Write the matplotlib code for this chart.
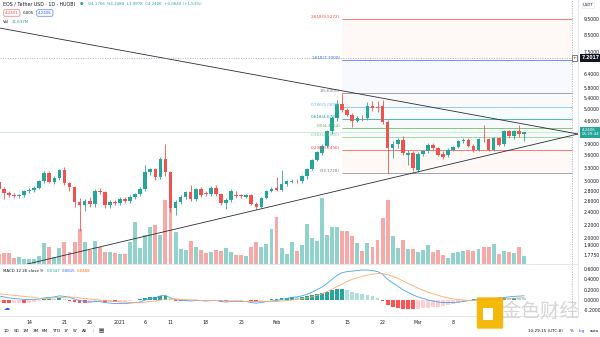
import numpy as np
import pandas as pd
import matplotlib
matplotlib.use("Agg")
import matplotlib.pyplot as plt
from matplotlib.ticker import NullLocator
from matplotlib.patches import FancyBboxPatch
import matplotlib.transforms as mtransforms

# ---------------------------------------------------------------- datos
fechas = pd.date_range("2020-12-08", "2021-03-22", freq="D")

aperturas = [
    2.97, 2.84, 2.76, 2.72, 2.69, 2.71, 2.79, 2.82, 2.86, 2.99,
    3.18, 2.98, 3.06, 3.24, 2.95, 2.87, 2.58, 2.52, 2.61, 2.54,
    2.80, 2.78, 2.53, 2.58, 2.56, 2.64, 2.60, 2.68, 2.73, 2.83,
    3.19, 3.26, 3.09, 3.50, 3.19, 2.47, 2.58, 2.68, 2.77, 2.64,
    2.83, 2.76, 2.73, 2.86, 2.73, 2.57, 2.62, 2.72, 2.71, 2.68,
    2.71, 2.54, 2.49, 2.66, 2.80, 2.85, 2.82, 2.93, 2.98, 3.01,
    2.99, 3.10, 3.27, 3.49, 3.65, 3.85, 4.27, 4.69, 5.20, 4.98,
    4.80, 4.60, 4.71, 4.68, 5.10, 5.05, 5.10, 4.58, 3.79, 3.90,
    4.02, 3.62, 3.66, 3.24, 3.64, 3.70, 3.87, 3.79, 3.64, 3.62,
    3.74, 3.83, 3.98, 4.02, 3.85, 3.74, 4.05, 4.03, 3.74, 4.06,
    3.90, 4.27, 4.14, 4.27, 4.1766]
maximos = [
    3.02, 2.88, 2.80, 2.75, 2.74, 2.82, 2.85, 2.89, 3.02, 3.21,
    3.22, 3.10, 3.27, 3.31, 2.98, 2.90, 2.65, 2.64, 2.68, 2.84,
    2.86, 2.80, 2.62, 2.62, 2.67, 2.68, 2.71, 2.76, 2.87, 3.36,
    3.30, 3.30, 3.55, 3.90, 3.22, 2.62, 2.72, 2.80, 2.92, 2.86,
    2.88, 2.80, 2.90, 2.92, 2.76, 2.66, 2.84, 2.80, 2.74, 2.74,
    2.73, 2.58, 2.68, 2.82, 2.87, 3.09, 3.24, 3.02, 3.04, 3.05,
    3.12, 3.30, 3.52, 3.72, 3.90, 4.32, 4.75, 5.34, 5.60, 5.05,
    4.88, 4.76, 4.80, 5.25, 5.30, 5.30, 5.35, 4.62, 3.98, 4.08,
    4.12, 3.74, 3.70, 3.68, 3.74, 3.92, 3.92, 3.82, 3.70, 3.78,
    3.86, 4.02, 4.06, 4.06, 3.90, 4.08, 4.47, 4.08, 4.10, 4.10,
    4.30, 4.30, 4.30, 4.47, 4.2489]
minimos = [
    2.80, 2.64, 2.68, 2.66, 2.66, 2.68, 2.76, 2.78, 2.84, 2.96,
    2.95, 2.93, 3.02, 2.92, 2.80, 2.50, 2.10, 2.42, 2.50, 2.50,
    2.74, 2.48, 2.47, 2.52, 2.52, 2.57, 2.57, 2.64, 2.70, 2.80,
    3.12, 3.02, 3.05, 3.10, 2.40, 2.36, 2.54, 2.63, 2.60, 2.60,
    2.68, 2.70, 2.70, 2.70, 2.52, 2.45, 2.58, 2.66, 2.66, 2.66,
    2.52, 2.45, 2.47, 2.64, 2.78, 2.79, 2.80, 2.90, 2.95, 2.96,
    2.96, 3.05, 3.25, 3.45, 3.60, 3.80, 4.20, 4.60, 4.90, 4.75,
    4.40, 4.55, 4.60, 4.64, 4.95, 4.90, 4.50, 3.1728, 3.53, 3.80,
    3.60, 3.37, 3.22, 3.20, 3.58, 3.66, 3.74, 3.58, 3.52, 3.57,
    3.70, 3.80, 3.94, 3.82, 3.68, 3.70, 3.95, 3.70, 3.70, 3.84,
    3.86, 4.08, 4.05, 4.10, 3.9978]
cierres = [
    2.84, 2.76, 2.72, 2.69, 2.71, 2.79, 2.82, 2.86, 2.99, 3.18,
    2.98, 3.06, 3.24, 2.95, 2.87, 2.58, 2.52, 2.61, 2.54, 2.80,
    2.78, 2.53, 2.58, 2.56, 2.64, 2.60, 2.68, 2.73, 2.83, 3.19,
    3.26, 3.09, 3.50, 3.19, 2.47, 2.58, 2.68, 2.77, 2.64, 2.83,
    2.72, 2.73, 2.86, 2.73, 2.57, 2.62, 2.79, 2.69, 2.69, 2.71,
    2.54, 2.49, 2.66, 2.80, 2.83, 2.82, 2.93, 2.99, 3.01, 2.99,
    3.10, 3.27, 3.49, 3.68, 3.85, 4.27, 4.69, 5.20, 4.98, 4.80,
    4.60, 4.70, 4.68, 5.10, 5.05, 5.04, 4.58, 3.79, 3.91, 4.02,
    3.66, 3.66, 3.28, 3.64, 3.70, 3.87, 3.79, 3.62, 3.57, 3.74,
    3.83, 3.98, 4.02, 3.85, 3.74, 4.03, 4.03, 3.74, 4.06, 3.88,
    4.27, 4.14, 4.27, 4.1766, 4.2406]
# volumen en millones
volumen = [
    14.5, 15.5, 16.4, 8.3, 10.6, 6.8, 7.3, 7.7, 11.6, 30.0,
    24.2, 10.6, 22.8, 31.5, 17.8, 32.3, 50.3, 31.5, 20.3, 33.4,
    25.1, 17.8, 17.0, 15.9, 14.1, 14.5, 32.3, 61.3, 22.8, 42.1,
    53.2, 56.6, 42.1, 92.8, 95.7, 46.8, 21.3, 20.3, 33.4, 25.1,
    20.3, 15.5, 17.8, 20.3, 19.3, 22.8, 17.8, 13.1, 13.1, 11.6,
    24.2, 32.3, 25.1, 29.0, 50.3, 68.2, 22.8, 14.5, 32.3, 19.3,
    27.6, 57.6, 37.3, 32.9, 95.7, 42.1, 54.1, 53.2, 47.9, 47.9,
    40.6, 30.9, 18.9, 30.0, 25.1, 34.8, 66.3, 92.8, 41.0, 22.8,
    34.8, 21.3, 22.2, 17.0, 20.3, 27.6, 17.8, 20.3, 13.1, 8.3,
    16.4, 17.8, 19.3, 20.3, 19.3, 21.3, 25.1, 24.2, 29.0, 14.1,
    19.3, 17.8, 16.4, 24.2, 11.6]
linea_macd = [
    0.08, 0.06, 0.04, 0.03, 0.02, 0.01, 0.01, 0.01, 0.02, 0.04,
    0.05, 0.06, 0.08, 0.07, 0.05, 0.02, -0.01, -0.03, -0.04, -0.03,
    -0.03, -0.05, -0.06, -0.07, -0.07, -0.07, -0.06, -0.05, -0.04, 0.00,
    0.03, 0.04, 0.08, 0.09, 0.04, 0.01, -0.01, -0.01, -0.02, -0.01,
    -0.01, -0.02, -0.01, -0.01, -0.03, -0.04, -0.03, -0.03, -0.03, -0.03,
    -0.05, -0.06, -0.05, -0.03, -0.02, -0.01, 0.01, 0.03, 0.05, 0.06,
    0.08, 0.11, 0.15, 0.20, 0.25, 0.32, 0.40, 0.48, 0.53, 0.55,
    0.56, 0.57, 0.58, 0.58, 0.57, 0.55, 0.50, 0.40, 0.33, 0.27,
    0.20, 0.15, 0.10, 0.06, 0.03, 0.00, -0.02, -0.04, -0.05, -0.05,
    -0.05, -0.04, -0.03, -0.01, 0.00, 0.01, 0.01, 0.02, 0.03, 0.04,
    0.05, 0.06, 0.07, 0.075, 0.0815]
linea_senal = [
    0.12, 0.11, 0.10, 0.09, 0.08, 0.07, 0.06, 0.05, 0.03, 0.03,
    0.03, 0.04, 0.05, 0.05, 0.06, 0.05, 0.04, 0.03, 0.02, 0.01,
    0.00, -0.01, -0.02, -0.03, -0.04, -0.04, -0.05, -0.05, -0.05, -0.04,
    -0.03, -0.02, 0.00, 0.01, 0.02, 0.02, 0.01, 0.01, 0.00, 0.00,
    -0.01, -0.01, -0.01, -0.01, -0.01, -0.02, -0.02, -0.02, -0.02, -0.03,
    -0.03, -0.03, -0.03, -0.03, -0.03, -0.03, -0.02, -0.01, 0.00, 0.01,
    0.03, 0.04, 0.06, 0.09, 0.12, 0.16, 0.21, 0.26, 0.31, 0.36,
    0.40, 0.43, 0.46, 0.48, 0.50, 0.51, 0.51, 0.49, 0.46, 0.42,
    0.37, 0.32, 0.28, 0.23, 0.19, 0.15, 0.12, 0.09, 0.06, 0.04,
    0.02, 0.01, 0.00, -0.01, -0.01, -0.01, 0.00, 0.00, 0.01, 0.01,
    0.02, 0.03, 0.035, 0.04, 0.0468]

# fibonacci (del minimo al maximo)
fib_niveles = [0, 0.236, 0.382, 0.5, 0.618, 0.786, 1, 1.618, 2.618]
fib_colores = ["#787b86", "#f44336", "#81c784", "#4caf50", "#089981",
               "#64b5f6", "#787b86", "#2962ff", "#f44336"]
fib_minimo = 3.1728
fib_maximo = 5.6000
fib_inicio = "2021-02-14"

# lineas de tendencia: (indice de vela, precio)
tendencia_baja = [(0.24, 8.90), (114.7, 4.19)]
tendencia_alta = [(0.24, 1.587), (114.7, 4.19)]

ticks_precio = [9.5, 8.5, 7.5, 6.4, 5.8, 5.4, 5.0, 4.6, 3.9, 3.6, 3.3,
                3.0, 2.8, 2.6, 2.4, 2.2, 2.0, 1.9, 1.775]
ticks_macd = [0.6, 0.4, 0.2, 0.0, -0.2]
fechas_ticks = ["2020-12-14", "2020-12-21", "2020-12-26", "2021-01-01",
                "2021-01-06", "2021-01-11", "2021-01-18", "2021-01-25",
                "2021-02-01", "2021-02-08", "2021-02-15", "2021-02-22",
                "2021-03-01", "2021-03-08"]
etiquetas_ticks = ["14", "21", "26", "2021", "6", "11", "18", "25",
                   "Feb", "8", "15", "22", "Mar", "8"]
precio_cruz = 7.2017
botones = ["1D", "5D", "1M", "3M", "6M", "YTD", "1Y", "5Y", "All"]

# ---------------------------------------------------------------- figura
VERDE = "#26a69a"
ROJO = "#ef5350"
TXT = "#131722"
BORDE = "#e0e3eb"
FS = 3.3

plt.rcParams['font.family'] = ['DejaVu Sans']
fig = plt.figure(figsize=(6.0, 3.37), dpi=100)
fig.patch.set_facecolor("white")

def px(x, y):
    return x / 600.0, 1 - y / 337.0

ancho = 578 / 600.0
pos_precio = [0, 1 - 264 / 337.0, ancho, 264 / 337.0]
pos_macd = [0, 1 - 316 / 337.0, ancho, 52 / 337.0]

x = np.arange(len(fechas))
o = np.array(aperturas)
h = np.array(maximos)
l = np.array(minimos)
c = np.array(cierres)
sube = c >= o
col = np.where(sube, VERDE, ROJO)

# volumen (eje de fondo)
vax = fig.add_axes(pos_precio)
vcol = np.where(sube, "#92d2cc", "#f7a9a7")
vax.bar(x, volumen, width=0.78, color=vcol, linewidth=0)
vax.set_ylim(0, max(volumen) * 264 / 66.0)
vax.set_xlim(0.24, 114.7)
vax.axis("off")

# precio
ax = fig.add_axes(pos_precio, sharex=vax)
ax.patch.set_visible(False)
ax.set_yscale("log")
ax.set_ylim(1.662, 10.87)

# fibonacci
i0 = fechas.get_loc(pd.Timestamp(fib_inicio))
i1 = 113.5
precios_fib = [fib_minimo + r * (fib_maximo - fib_minimo) for r in fib_niveles]
for k in range(1, len(fib_niveles)):
    ax.fill_between([i0, i1], precios_fib[k - 1], precios_fib[k],
                    color=fib_colores[k], alpha=0.035, linewidth=0, zorder=1)
for r, p, cc in zip(fib_niveles, precios_fib, fib_colores):
    ax.hlines(p, i0, i1, color=cc, linewidth=0.6, alpha=0.8, zorder=2)
    ax.text(i0 - 0.4, p, "%g(%.4f)" % (r, p), color=cc, fontsize=3.0,
            ha="right", va="bottom", zorder=5)

# velas
ax.vlines(x, l, h, color=col, linewidth=0.6, zorder=3)
bajo = np.minimum(o, c)
alto = np.maximum(o, c)
ax.bar(x, np.maximum(alto - bajo, bajo * 0.004), bottom=bajo, width=0.72,
       color=col, linewidth=0, zorder=4)

# lineas de tendencia
for linea in (tendencia_baja, tendencia_alta):
    ax.plot([linea[0][0], linea[1][0]], [linea[0][1], linea[1][1]],
            color="#2a2e39", linewidth=0.6, zorder=5)

# linea de ultimo precio y cruz
ax.axhline(c[-1], color=VERDE, linewidth=0.4, alpha=0.4, zorder=2)
ax.axhline(precio_cruz, color="#9598a1", linewidth=0.5,
           linestyle=(0, (1.5, 2)), zorder=6)
ax.axvline(i1, color="#9598a1", linewidth=0.5, linestyle=(0, (1.5, 2)), zorder=6)

ax.yaxis.tick_right()
ax.set_yticks(ticks_precio)
ax.set_yticklabels(["%.4f" % t for t in ticks_precio])
ax.yaxis.set_minor_locator(NullLocator())
ax.tick_params(axis="y", length=0, pad=4, labelsize=FS, labelcolor=TXT)
ax.tick_params(axis="x", bottom=False, labelbottom=False)
for sp in ax.spines.values():
    sp.set_visible(False)
ax.spines["right"].set_visible(True)
ax.spines["right"].set_color(BORDE)
ax.spines["right"].set_linewidth(0.6)

trans = mtransforms.blended_transform_factory(ax.transAxes, ax.transData)
ax.text(1.006, precio_cruz, "7.2017", transform=trans, fontsize=FS,
        color="white", va="center", ha="left", fontweight="bold",
        bbox=dict(boxstyle="square,pad=0.35", fc="#131722", ec="none"))
ax.text(0.997, precio_cruz, "+", transform=trans, fontsize=3.2,
        color=TXT, va="center", ha="right",
        bbox=dict(boxstyle="square,pad=0.2", fc="white", ec="#131722", lw=0.4))
ax.text(1.006, c[-1], "%.4f\n05:29:44" % c[-1], transform=trans, fontsize=2.9,
        color="white", va="center", ha="left", linespacing=1.1,
        bbox=dict(boxstyle="square,pad=0.35", fc=VERDE, ec="none"))

# ---------------------------------------------------------------- MACD
mx = fig.add_axes(pos_macd, sharex=vax)
m = np.array(linea_macd)
s = np.array(linea_senal)
hist = m - s
prev = np.r_[hist[0], hist[:-1]]
hcol = np.where(hist >= 0,
                np.where(hist >= prev, VERDE, "#b2dfdb"),
                np.where(hist < prev, "#ff5252", "#ffcdd2"))
mx.bar(x, hist, width=0.75, color=hcol, linewidth=0, zorder=2)
mx.plot(x, m, color="#42a5f5", linewidth=0.6, zorder=3)
mx.plot(x, s, color="#ffa86b", linewidth=0.6, zorder=3)
mx.axvline(i1, color="#9598a1", linewidth=0.5, linestyle=(0, (1.5, 2)))
mx.set_ylim(-0.31, 0.697)
mx.set_xlim(0.24, 114.7)
mx.yaxis.tick_right()
mx.set_yticks(ticks_macd)
mx.set_yticklabels(["%.4f" % t for t in ticks_macd])
mx.tick_params(axis="y", length=0, pad=4, labelsize=FS, labelcolor=TXT)
pos_ticks = [fechas.get_loc(pd.Timestamp(f)) for f in fechas_ticks]
mx.set_xticks(pos_ticks)
mx.set_xticklabels(etiquetas_ticks)
mx.tick_params(axis="x", length=0, pad=3, labelsize=FS, labelcolor=TXT)
for k, sp in mx.spines.items():
    sp.set_color(BORDE)
    sp.set_linewidth(0.6)
mx.spines["left"].set_visible(False)

# ---------------------------------------------------------------- textos
fig.text(*px(3, 4), "EOS / Tether USD · 1D · HUOBI", fontsize=3.4,
         color=TXT, va="center")
fig.text(*px(80, 4), "●", fontsize=3.0, color=VERDE, va="center")
fig.text(*px(88, 4), "O4.1766  H4.2489  L3.9978  C4.2406  +0.0640 (+1.53%)",
         fontsize=2.9, color=VERDE, va="center")
fig.text(*px(5, 13), "4.2401", fontsize=2.9, color=ROJO, va="center",
         bbox=dict(boxstyle="round,pad=0.3,rounding_size=0.3", fc="white",
                   ec=ROJO, lw=0.4))
fig.text(*px(23, 13), "0.005", fontsize=2.9, color=TXT, va="center")
fig.text(*px(38, 13), "4.2406", fontsize=2.9, color="#2962ff", va="center",
         bbox=dict(boxstyle="round,pad=0.3,rounding_size=0.3", fc="white",
                   ec="#2962ff", lw=0.4))
fig.text(*px(3, 22), "Vol", fontsize=2.9, color=TXT, va="center")
fig.text(*px(12, 22), "11.637M", fontsize=2.9, color=VERDE, va="center")
fig.text(*px(588, 5), "USDT", fontsize=2.8, color=TXT, va="center", ha="center",
         bbox=dict(boxstyle="square,pad=0.25", fc="white", ec=BORDE, lw=0.4))

fig.text(*px(3, 271), "MACD 12 26 close 9", fontsize=2.9, color=TXT, va="center")
fig.text(*px(47, 271), "0.0347", fontsize=2.9, color=VERDE, va="center")
fig.text(*px(62, 271), "0.0815", fontsize=2.9, color="#2962ff", va="center")
fig.text(*px(77, 271), "0.0468", fontsize=2.9, color="#ff6d00", va="center")
fig.text(*px(7, 309), "☁", fontsize=4.5, color="#2962ff", va="center", ha="center")

# barra inferior
xs_botones = [6, 16, 26, 36, 45, 56, 66, 75, 85]
for xb, b in zip(xs_botones, botones):
    fig.text(*px(xb, 331), b, fontsize=3.0, color=TXT, va="center", ha="center")
fig.text(*px(93, 331), "|", fontsize=3.0, color="#b2b5be", va="center", ha="center")
fig.text(*px(101, 331), "▤", fontsize=4, color=TXT, va="center", ha="center")
fig.text(*px(528, 331), "10:29:15 (UTC-8)", fontsize=3.0, color=TXT, va="center")
fig.text(*px(570, 331), "%", fontsize=3.0, color=TXT, va="center")
fig.text(*px(579, 331), "log", fontsize=3.0, color="#2962ff", va="center")
fig.text(*px(590, 331), "auto", fontsize=3.0, color=TXT, va="center")

# marca de agua
logo = FancyBboxPatch(px(478, 328), 24 / 600.0, 30 / 337.0,
                      boxstyle="round,pad=0.002", transform=fig.transFigure,
                      fc="#f5b400", ec="none", alpha=0.95)
fig.add_artist(logo)
hueco = FancyBboxPatch(px(483, 320), 10 / 600.0, 12 / 337.0,
                       boxstyle="square,pad=0", transform=fig.transFigure,
                       fc="white", ec="none")
fig.add_artist(hueco)
fig.text(*px(540, 311), "金色财经", fontsize=14,
         family=["Noto Sans CJK SC", "DejaVu Sans"], color="#cfcfcf",
         alpha=0.85, ha="center", va="center")

fig.savefig("out.png", dpi=100)
